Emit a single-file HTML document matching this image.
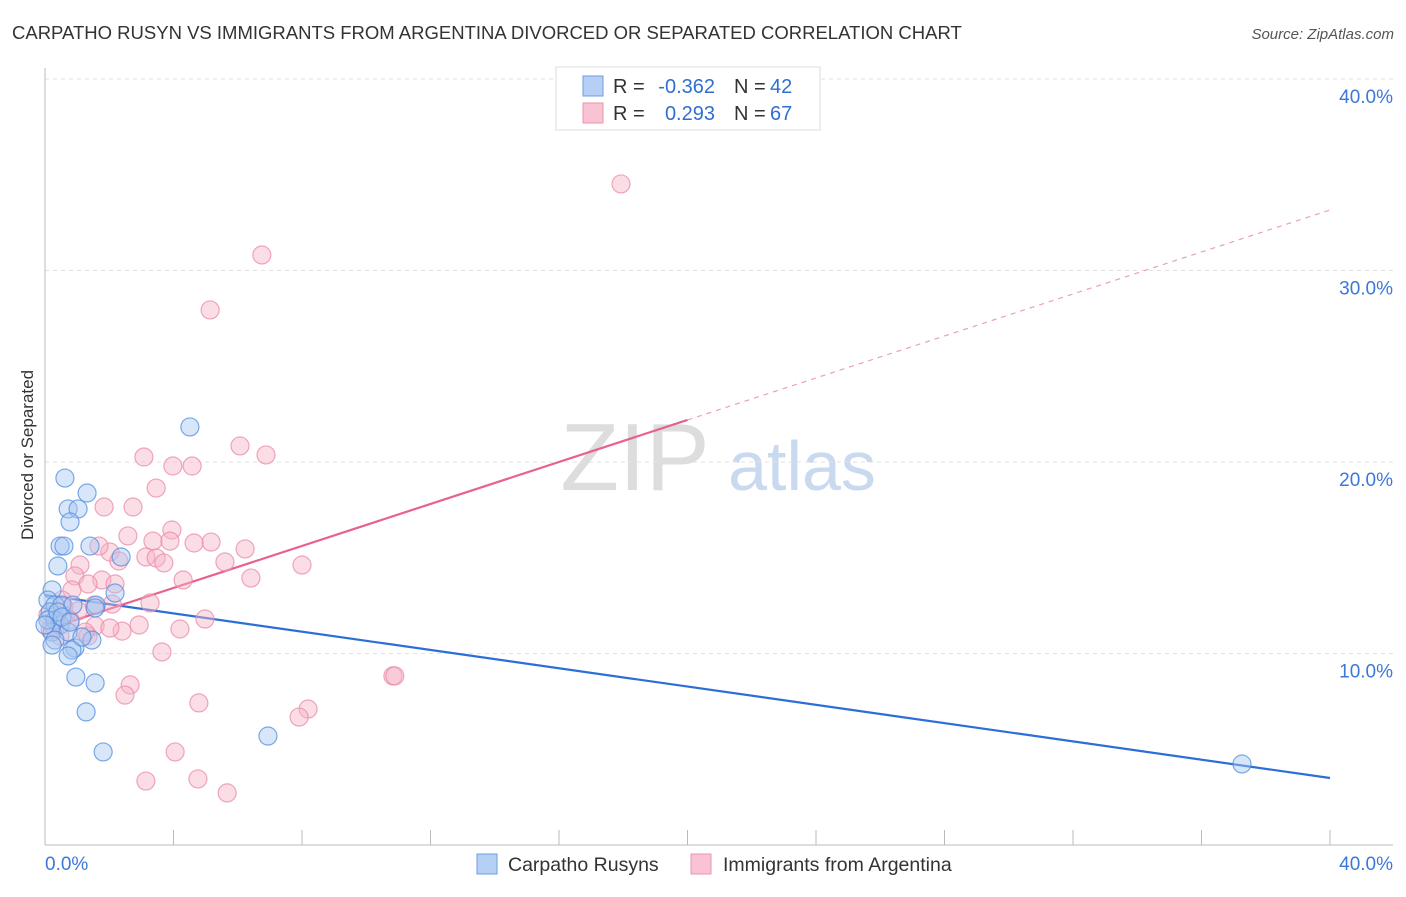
<!DOCTYPE html>
<html><head><meta charset="utf-8"><style>
body{margin:0;background:#fff;font-family:"Liberation Sans",sans-serif;}
svg text{font-family:"Liberation Sans",sans-serif;}
</style></head><body>
<svg id="chart" width="1406" height="892" xmlns="http://www.w3.org/2000/svg">
<text x="12" y="39" font-size="18.5" fill="#333">CARPATHO RUSYN VS IMMIGRANTS FROM ARGENTINA DIVORCED OR SEPARATED CORRELATION CHART</text>
<text x="1394" y="39" font-size="15" fill="#555" font-style="italic" text-anchor="end">Source: ZipAtlas.com</text>
<text x="33" y="455" font-size="17" fill="#333" text-anchor="middle" transform="rotate(-90 33 455)">Divorced or Separated</text>
<g><text x="635" y="490" font-size="96" fill="#ddd" font-family="Liberation Serif" text-anchor="middle">ZIP</text><text x="802" y="490" font-size="70" fill="#c8d9f0" text-anchor="middle">atlas</text></g>
<g id="grid"></g><g id="axes"></g><g id="lines"></g><g id="pts"></g>
<g>
<rect x="556" y="67" width="264" height="63" fill="#fff" stroke="#ddd"/>
<rect x="583" y="76" width="20" height="20" fill="#b5cff5" stroke="#6d9ce0"/>
<rect x="583" y="103" width="20" height="20" fill="#f9c3d3" stroke="#eb95b0"/>
<text x="613" y="93" font-size="20" fill="#333">R =</text>
<text x="715" y="93" font-size="20" fill="#2f6fd0" text-anchor="end">-0.362</text>
<text x="734" y="93" font-size="20" fill="#333">N =</text>
<text x="770" y="93" font-size="20" fill="#2f6fd0">42</text>
<text x="613" y="120" font-size="20" fill="#333">R =</text>
<text x="715" y="120" font-size="20" fill="#2f6fd0" text-anchor="end">0.293</text>
<text x="734" y="120" font-size="20" fill="#333">N =</text>
<text x="770" y="120" font-size="20" fill="#2f6fd0">67</text>
</g>
<g>
<rect x="477" y="854" width="20" height="20" fill="#b5cff5" stroke="#6d9ce0"/>
<text x="508" y="871" font-size="19.5" fill="#333">Carpatho Rusyns</text>
<rect x="691" y="854" width="20" height="20" fill="#f9c3d3" stroke="#eb95b0"/>
<text x="723" y="871" font-size="19.5" fill="#333">Immigrants from Argentina</text>
</g>
</svg>
<script>
const yTicks=[10,20,30,40];
const yTickLabels=["10.0%","20.0%","30.0%","40.0%"];
const xTickLabels=["0.0%","40.0%"];
const blueX=[4.51,0.62,1.31,0.72,1.03,0.78,0.47,0.59,1.40,2.37,0.40,0.22,2.18,0.09,0.31,0.53,0.87,1.59,0.16,0.31,0.47,0.22,0.72,1.46,0.31,0.22,0.93,0.84,0.72,0.96,1.56,1.28,1.81,6.94,37.26,0.09,0.40,0.0,0.53,1.56,1.15,0.78];
const blueY=[21.83,19.16,18.38,17.55,17.55,16.87,15.61,15.61,15.61,15.04,14.57,13.32,13.16,12.79,12.53,12.53,12.53,12.53,12.17,11.75,11.49,11.12,11.12,10.70,10.70,10.44,10.29,10.18,9.87,8.77,8.46,6.95,4.86,5.69,4.23,11.75,12.17,11.49,11.91,12.38,10.86,11.64];
const pinkX=[17.93,6.75,5.14,6.07,6.88,3.08,3.98,4.58,3.46,1.84,2.74,3.95,2.58,3.36,3.89,5.17,6.23,4.64,2.02,1.68,3.14,3.46,2.30,3.70,5.60,8.00,1.09,0.93,1.77,2.18,4.30,6.41,1.34,0.84,3.27,2.09,1.53,0.59,4.98,2.93,4.20,1.56,2.40,1.34,0.47,0.16,0.37,0.09,3.64,2.65,2.49,4.79,10.83,10.89,8.19,7.91,4.05,3.14,4.76,5.67,0.62,1.03,0.78,0.31,0.53,1.25,2.02];
const pinkY=[34.52,30.81,27.94,20.84,20.37,20.26,19.79,19.79,18.64,17.65,17.65,16.45,16.14,15.87,15.87,15.82,15.46,15.77,15.30,15.61,15.04,14.99,14.83,14.73,14.78,14.62,14.62,14.05,13.84,13.63,13.84,13.94,13.63,13.32,12.64,12.58,12.53,12.43,11.80,11.49,11.28,11.44,11.17,10.91,10.91,11.23,11.75,12.01,10.08,8.36,7.83,7.42,8.83,8.83,7.10,6.68,4.86,3.34,3.45,2.72,11.96,12.22,11.75,11.33,12.79,11.12,11.33];
const blueTrend=[13.05,3.50];
const pinkTrend=[11.23,33.16];
const NS="http://www.w3.org/2000/svg";
const X0=45,X1=1330,Y0=845,PY=19.15;
const sx=v=>X0+(X1-X0)*v/40, sy=v=>Y0-v*PY;
function mk(t,a,p){const e=document.createElementNS(NS,t);for(const k in a)e.setAttribute(k,a[k]);document.getElementById(p).appendChild(e);return e;}
yTicks.forEach((t,i)=>{
 const g=mk('line',{x1:X0,x2:1393,y1:sy(t),y2:sy(t),stroke:'#e2e2e2','stroke-dasharray':'4,4'},'grid');
 
 
 const l=mk('text',{x:1393,y:sy(t)+24,'font-size':19,fill:'#3b78d8','text-anchor':'end'},'grid');
 l.textContent=yTickLabels[i];
 
 
});
let a=mk('line',{x1:X0,x2:X0,y1:68,y2:Y0,stroke:'#bbb'},'axes');


a=mk('line',{x1:X0,x2:1393,y1:Y0,y2:Y0,stroke:'#bbb'},'axes');


for(let k=0;k<=10;k++){const t=mk('line',{x1:sx(k*4),x2:sx(k*4),y1:830,y2:Y0,stroke:'#bbb'},'axes');
 
 }
[[X0,'start'],[1393,'end']].forEach((p,i)=>{const t=mk('text',{x:p[0],y:870,'font-size':19,fill:'#3b78d8','text-anchor':p[1]},'axes');t.textContent=xTickLabels[i];
 
 });
function pts(xs,ys,fill,stroke,name){xs.forEach((x,i)=>{const c=mk('circle',{cx:sx(x),cy:sy(ys[i]),r:9,fill:fill,'fill-opacity':0.45,stroke:stroke,'stroke-opacity':0.75,'stroke-width':1.2},'pts');
 
 });}
pts(pinkX,pinkY,'#f7b3c8','#e98aa8','argentina-point');
pts(blueX,blueY,'#a8c8f2','#4f8ddf','carpatho-point');
let ln=mk('line',{x1:sx(0),y1:sy(blueTrend[0]),x2:sx(40),y2:sy(blueTrend[1]),stroke:'#2b6fd6','stroke-width':2.2},'lines');


const pm=(pinkTrend[0]+pinkTrend[1])/2;
ln=mk('line',{x1:sx(0),y1:sy(pinkTrend[0]),x2:sx(20),y2:sy(pm),stroke:'#e8628e','stroke-width':2.2},'lines');


ln=mk('line',{x1:sx(20),y1:sy(pm),x2:sx(40),y2:sy(pinkTrend[1]),stroke:'#eaa0b8','stroke-width':1.2,'stroke-dasharray':'5,5'},'lines');


</script>
</body></html>
